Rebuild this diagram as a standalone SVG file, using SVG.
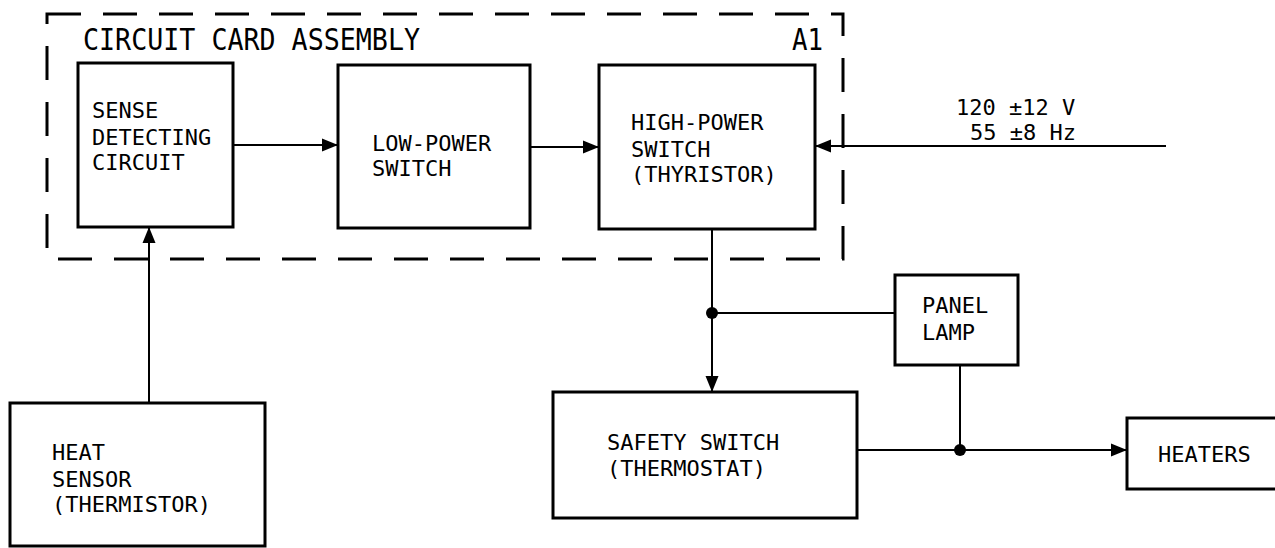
<svg xmlns="http://www.w3.org/2000/svg" width="1275" height="548" viewBox="0 0 1275 548">
<defs>
<style>
.box{fill:#fff;stroke:#000;stroke-width:3}
.wire{fill:none;stroke:#000;stroke-width:2}
.t{font-family:"DejaVu Sans Mono","Liberation Mono",monospace;font-size:22px;fill:#000}
.big{font-family:"DejaVu Sans Mono","Liberation Mono",monospace;font-size:30px;fill:#000}
.dash{fill:none;stroke:#000;stroke-width:3;stroke-dasharray:34 22}
</style>
<marker id="arr" markerUnits="userSpaceOnUse" markerWidth="17" markerHeight="14" refX="16" refY="7" orient="auto">
<path d="M0,0.5 L16,7 L0,13.5 Z" fill="#000"/>
</marker>
</defs>
<rect width="1275" height="548" fill="#fff"/>
<g id="assembly">
<rect class="dash" x="47" y="14" width="796" height="245"/>
<text class="big" x="83" y="50" textLength="337" lengthAdjust="spacingAndGlyphs">CIRCUIT CARD ASSEMBLY</text>
<text class="big" x="792" y="50" textLength="31" lengthAdjust="spacingAndGlyphs">A1</text>
</g>
<g id="sense">
<rect class="box" x="78" y="63" width="155" height="164"/>
<text class="t" x="92" y="118">SENSE</text>
<text class="t" x="92" y="145">DETECTING</text>
<text class="t" x="92" y="170">CIRCUIT</text>
</g>
<g id="lowpower">
<rect class="box" x="338" y="65" width="192" height="163"/>
<text class="t" x="372" y="151">LOW-POWER</text>
<text class="t" x="372" y="176">SWITCH</text>
</g>
<g id="highpower">
<rect class="box" x="599" y="65" width="216" height="164"/>
<text class="t" x="631" y="130">HIGH-POWER</text>
<text class="t" x="631" y="157">SWITCH</text>
<text class="t" x="631" y="182">(THYRISTOR)</text>
</g>
<g id="heatsensor">
<rect class="box" x="10" y="403" width="255" height="143"/>
<text class="t" x="52" y="460">HEAT</text>
<text class="t" x="52" y="487">SENSOR</text>
<text class="t" x="52" y="512">(THERMISTOR)</text>
</g>
<g id="panellamp">
<rect class="box" x="895" y="275" width="123" height="90"/>
<text class="t" x="922" y="313">PANEL</text>
<text class="t" x="922" y="340">LAMP</text>
</g>
<g id="safety">
<rect class="box" x="553" y="392" width="304" height="126"/>
<text class="t" x="607" y="450">SAFETY SWITCH</text>
<text class="t" x="607" y="476">(THERMOSTAT)</text>
</g>
<g id="heaters">
<rect class="box" x="1127" y="418" width="170" height="71"/>
<text class="t" x="1158" y="462">HEATERS</text>
</g>
<g id="supply">
<text class="t" x="956" y="115">120 ±12 V</text>
<text class="t" x="970" y="140">55 ±8 Hz</text>
</g>
<g id="connectors">
<line class="wire" x1="233" y1="145" x2="338" y2="145" marker-end="url(#arr)"/>
<line class="wire" x1="530" y1="147" x2="599" y2="147" marker-end="url(#arr)"/>
<line class="wire" x1="1166" y1="146" x2="815" y2="146" marker-end="url(#arr)"/>
<line class="wire" x1="149" y1="403" x2="149" y2="227" marker-end="url(#arr)"/>
<line class="wire" x1="712" y1="229" x2="712" y2="392" marker-end="url(#arr)"/>
<line class="wire" x1="712" y1="313" x2="895" y2="313"/>
<circle cx="712" cy="313" r="6"/>
<line class="wire" x1="857" y1="450" x2="1127" y2="450" marker-end="url(#arr)"/>
<line class="wire" x1="960" y1="365" x2="960" y2="450"/>
<circle cx="960" cy="450" r="6"/>
</g>
</svg>
